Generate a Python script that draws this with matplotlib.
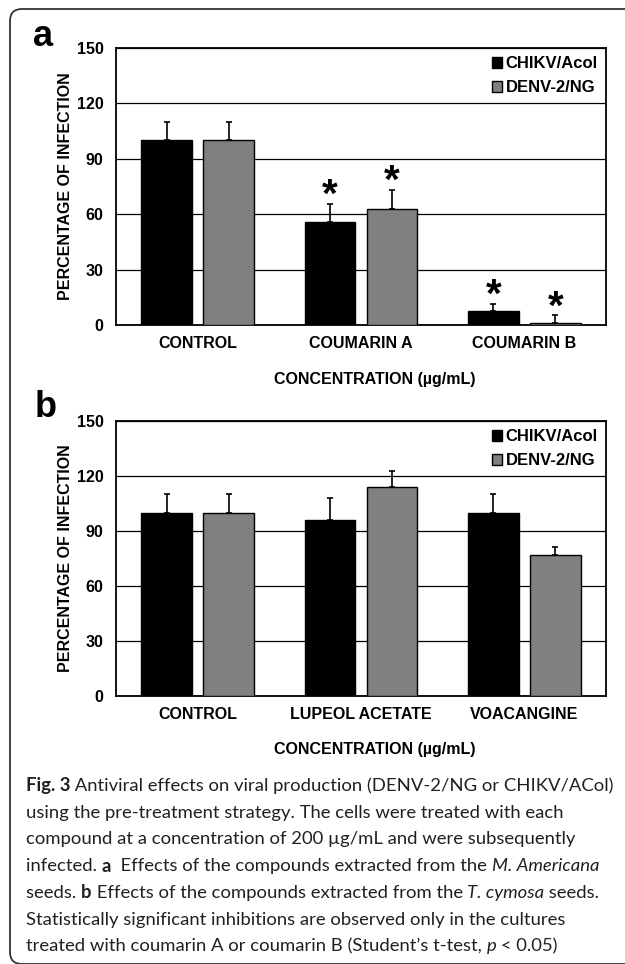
import matplotlib
matplotlib.use('Agg')
import numpy as np
import matplotlib.pyplot as plt
from matplotlib.patches import Patch, FancyBboxPatch
from matplotlib.transforms import IdentityTransform

plt.rcParams['font.family'] = ['Liberation Sans', 'DejaVu Sans']

# data
series = ['CHIKV/Acol', 'DENV-2/NG']
cats_a = ['CONTROL', 'COUMARIN A', 'COUMARIN B']
chikv_a = [100, 56, 7.5]
chikv_a_err = [10, 9.5, 4]
denv_a = [100, 63, 1.2]
denv_a_err = [10, 10, 4]
signif_a = [[False, True, True], [False, True, True]]

cats_b = ['CONTROL', 'LUPEOL ACETATE', 'VOACANGINE']
chikv_b = [100, 96, 100]
chikv_b_err = [10, 12, 10]
denv_b = [100, 114, 77]
denv_b_err = [10, 9, 4.5]

yticks = [0, 30, 60, 90, 120, 150]

W, H = 625, 964
fig = plt.figure(figsize=(W / 100, H / 100), dpi=100)


def px_axes(left, top, right, bottom):
    return fig.add_axes([left / W, 1 - bottom / H, (right - left) / W, (bottom - top) / H])


def panel(ax, cats, v1, e1, v2, e2, sig=None):
    x = np.arange(len(cats))
    w = 0.31
    off = 0.19
    ax.bar(x - off, v1, w, color='black', edgecolor='black', lw=1, zorder=3)
    ax.bar(x + off, v2, w, color='#808080', edgecolor='black', lw=1, zorder=3)
    ax.errorbar(x - off, v1, yerr=[np.zeros(len(v1)), e1], fmt='none',
                ecolor='black', elinewidth=1.2, capsize=2.5, capthick=1.2, zorder=4)
    ax.errorbar(x + off, v2, yerr=[np.zeros(len(v2)), e2], fmt='none',
                ecolor='black', elinewidth=1.2, capsize=2.5, capthick=1.2, zorder=4)
    if sig is not None:
        for k in range(len(cats)):
            if sig[0][k]:
                ax.text(x[k] - off, v1[k] + e1[k] - 6, '*', ha='center', va='bottom',
                        fontsize=29, fontweight='bold')
            if sig[1][k]:
                ax.text(x[k] + off, v2[k] + e2[k] - 6, '*', ha='center', va='bottom',
                        fontsize=29, fontweight='bold')
    ax.set_xlim(-0.5, len(cats) - 0.5)
    ax.set_ylim(0, 150)
    ax.set_yticks(yticks)
    ax.set_xticks(x)
    ax.set_xticklabels(cats)
    ax.set_axisbelow(True)
    ax.yaxis.grid(True, color='black', lw=0.9)
    for s in ax.spines.values():
        s.set_linewidth(1.3)
    ax.tick_params(axis='y', length=0, labelsize=11.5, pad=9)
    ax.tick_params(axis='x', length=0, labelsize=11.5, pad=8)
    for lab in ax.get_xticklabels() + ax.get_yticklabels():
        lab.set_fontweight('bold')
    ax.text(-0.104, 0.5, 'PERCENTAGE OF INFECTION', transform=ax.transAxes,
            rotation=90, ha='center', va='center', fontsize=11.5, fontweight='bold')
    ax.text(0.529, -0.195, 'CONCENTRATION (µg/mL)', transform=ax.transAxes,
            ha='center', va='center', fontsize=11.5, fontweight='bold')
    handles = [Patch(facecolor='black', edgecolor='black', label=series[0]),
               Patch(facecolor='#808080', edgecolor='black', label=series[1])]
    ax.legend(handles=handles, loc='upper right', frameon=False,
              prop={'weight': 'bold', 'size': 12}, handlelength=0.6, handleheight=0.6,
              handletextpad=0.2, labelspacing=0.55, borderaxespad=0.1)


ax1 = px_axes(116, 48, 606, 325)
panel(ax1, cats_a, chikv_a, chikv_a_err, denv_a, denv_a_err, signif_a)
ax2 = px_axes(116, 421, 606, 696)
panel(ax2, cats_b, chikv_b, chikv_b_err, denv_b, denv_b_err)

fig.text(33 / W, 1 - 46 / H, 'a', fontsize=26, fontweight='bold', va='baseline')
fig.text(35 / W, 1 - 417 / H, 'b', fontsize=26, fontweight='bold', va='baseline')

# frame around the figure
box = FancyBboxPatch((10, 0), 700, H - 9, boxstyle='round,pad=0,rounding_size=12',
                     fill=False, edgecolor='#333333', lw=1.3, transform=IdentityTransform())
fig.patches.append(box)

# caption with mixed styles
caption = [
    [('Fig. 3', 'bold', 'normal'), (' Antiviral effects on viral production (DENV-2/NG or CHIKV/ACol)', 'normal', 'normal')],
    [('using the pre-treatment strategy. The cells were treated with each', 'normal', 'normal')],
    [('compound at a concentration of 200 µg/mL and were subsequently', 'normal', 'normal')],
    [('infected. ', 'normal', 'normal'), ('a', 'bold', 'normal'),
     ('  Effects of the compounds extracted from the ', 'normal', 'normal'),
     ('M. Americana', 'normal', 'italic')],
    [('seeds. ', 'normal', 'normal'), ('b', 'bold', 'normal'),
     (' Effects of the compounds extracted from the ', 'normal', 'normal'),
     ('T. cymosa', 'normal', 'italic'), (' seeds.', 'normal', 'normal')],
    [('Statistically significant inhibitions are observed only in the cultures', 'normal', 'normal')],
    [('treated with coumarin A or coumarin B (Student’s t-test, ', 'normal', 'normal'),
     ('p', 'normal', 'italic'), (' < 0.05)', 'normal', 'normal')],
]
fig.canvas.draw()
r = fig.canvas.get_renderer()
y0 = 786
for i, line in enumerate(caption):
    xp = 26
    yp = y0 + i * 26.7
    for txt, wt, st in line:
        t = fig.text(xp / W, 1 - yp / H, txt, fontsize=13.3, fontweight=wt, fontstyle=st,
                     family=['Lato', 'DejaVu Sans'], color='#231f20', va='center', ha='left')
        bb = t.get_window_extent(renderer=r)
        xp += bb.width

fig.savefig('out.png', dpi=100)
